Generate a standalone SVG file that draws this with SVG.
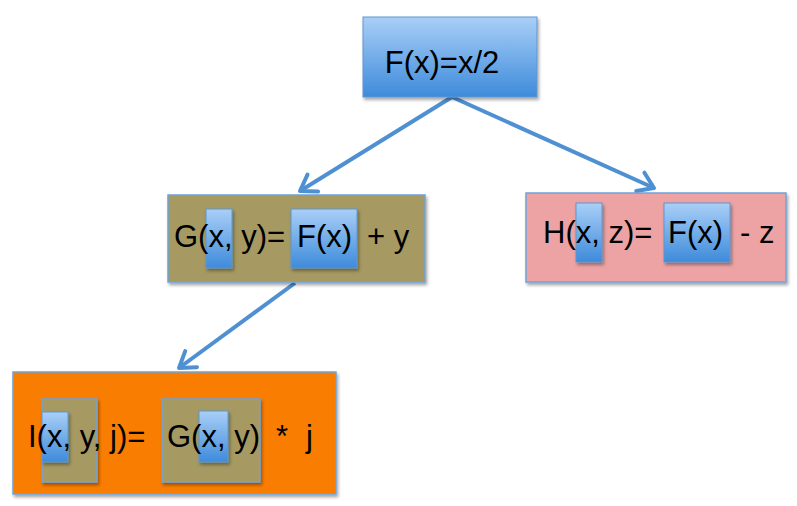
<svg xmlns="http://www.w3.org/2000/svg" width="797" height="506" viewBox="0 0 797 506">
<defs>
<linearGradient id="blue" x1="0" y1="0" x2="0" y2="1">
<stop offset="0" stop-color="#A9CFF7"/>
<stop offset="1" stop-color="#3E8BDB"/>
</linearGradient>
<filter id="sh" x="-10%" y="-10%" width="130%" height="130%">
<feDropShadow dx="1.5" dy="2.5" stdDeviation="1.5" flood-color="#000" flood-opacity="0.35"/>
</filter>
<marker id="arr" markerUnits="userSpaceOnUse" viewBox="-18 -13 22 26" markerWidth="22" markerHeight="26" refX="0" refY="0" orient="auto">
<path d="M-15,-10 L0,0 L-15,10" fill="none" stroke="#4F90D3" stroke-width="4" stroke-linecap="round" stroke-linejoin="round"/>
</marker>
</defs>
<style>
.t{font-family:"Liberation Sans",Arial,sans-serif;font-size:31px;fill:#000}
.bl{fill:url(#blue);stroke:#5E95CF;stroke-width:1;filter:url(#sh)}
.ol{fill:#A69A62;stroke:#6FA3D8;stroke-width:1.5;filter:url(#sh)}
.pk{fill:#EDA3A3;stroke:#6FA3D8;stroke-width:1.5;filter:url(#sh)}
.or{fill:#F97D00;stroke:#6FA3D8;stroke-width:1.5;filter:url(#sh)}
.c{fill:none;stroke:#4F90D3;stroke-width:4;marker-end:url(#arr)}
</style>
<g id="connectors">
<line class="c" x1="452" y1="97" x2="300" y2="191"/>
<line class="c" x1="452" y1="97" x2="654" y2="188"/>
<line class="c" x1="295" y1="283" x2="179" y2="368"/>
</g>
<g id="nodeF">
<rect class="bl" x="363" y="17" width="174" height="80"/>
<text class="t" x="442" y="73" text-anchor="middle" font-size="33">F(x)=x/2</text>
</g>
<g id="nodeG">
<rect class="ol" x="168" y="195" width="257" height="87"/>
<rect class="bl" x="206" y="209" width="26" height="59"/>
<rect class="bl" x="291" y="209" width="66" height="59"/>
<text class="t" y="247"><tspan x="174">G(x, y)=</tspan><tspan x="297">F(x)</tspan><tspan x="367">+ y</tspan></text>
</g>
<g id="nodeH">
<rect class="pk" x="526" y="193" width="260" height="89"/>
<rect class="bl" x="576" y="203" width="26" height="59"/>
<rect class="bl" x="664" y="203" width="66" height="59"/>
<text class="t" y="243"><tspan x="543">H(x, z)=</tspan><tspan x="668">F(x)</tspan><tspan x="740">- z</tspan></text>
</g>
<g id="nodeI">
<rect class="or" x="13" y="372" width="323" height="122"/>
<rect class="ol" x="42" y="399" width="55" height="83"/>
<rect class="bl" x="42" y="412" width="26" height="50"/>
<rect class="ol" x="162" y="399" width="98" height="83"/>
<rect class="bl" x="199" y="411" width="29" height="51"/>
<text class="t" y="447"><tspan x="28">I(x, y, j)=</tspan><tspan x="167">G(x, y)</tspan><tspan x="276">*</tspan><tspan x="306">j</tspan></text>
</g>
</svg>
